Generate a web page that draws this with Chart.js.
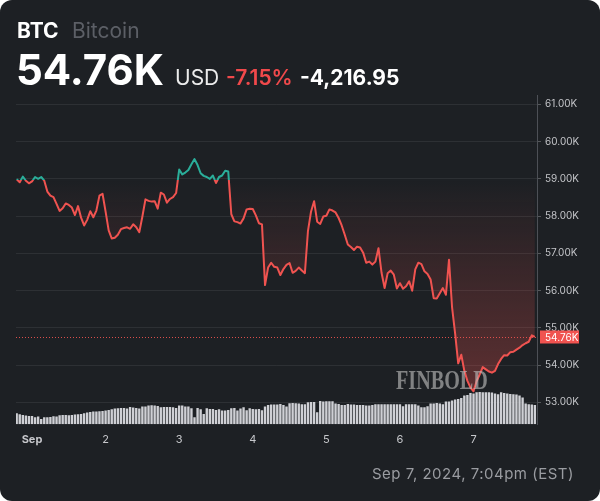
<!DOCTYPE html>
<html>
<head>
<meta charset="utf-8">
<script src="https://cdn.jsdelivr.net/npm/chart.js@4/dist/chart.umd.min.js"></script>
<style>
  html, body { margin:0; padding:0; background:#ffffff; }
  #card { position:absolute; left:0; top:0; width:600px; height:501px; background:#1d2024; border-radius:12px; overflow:hidden; font-family:Inter, "Noto Sans", sans-serif; }
  #card canvas { position:absolute; left:0; top:0; }
  .t { position:absolute; white-space:nowrap; }
</style>
</head>
<body>
<div id="card">
  <canvas id="c" width="600" height="501"></canvas>
  <div class="t" style="left:17px;top:19.9px;font-size:21px;line-height:21px;font-weight:700;color:#ffffff;">BTC</div>
  <div class="t" style="left:72px;top:19.9px;font-size:21px;line-height:21px;font-weight:400;color:#5c5f66;">Bitcoin</div>
  <div class="t" style="left:16px;top:48.7px;font-size:42px;line-height:42px;font-weight:700;color:#ffffff;">54.76K</div>
  <div class="t" style="left:175px;top:66.9px;font-size:21px;line-height:21px;font-weight:400;color:#ececec;">USD</div>
  <div class="t" style="left:226px;top:66.9px;font-size:21px;line-height:21px;font-weight:600;color:#f0494b;">-7.15%</div>
  <div class="t" style="left:300px;top:66.9px;font-size:21px;line-height:21px;font-weight:700;color:#ffffff;">-4,216.95</div>
  <div class="t" style="left:396px;top:365.5px;font-size:28px;line-height:28px;font-weight:700;font-family:'Liberation Serif','DejaVu Serif',serif;color:rgba(190,190,190,0.62);transform:scaleX(0.72);transform-origin:left top;">FINBOLD</div>
  <div class="t" style="left:372px;top:466px;font-size:15px;line-height:15px;font-weight:400;letter-spacing:0.5px;color:#9a9ca1;">Sep 7, 2024, 7:04pm (EST)</div>
</div>
<script>
// Hourly BTC price (thousand USD), first point Aug 31 19:00 (hour -5 relative to Sep 1 00:00)
const startHour = -5;
const prices = [
  58.99, 58.91, 59.06, 58.95, 58.88, 58.93, 59.05, 59.00, 59.05, 58.95,
  58.66, 58.55, 58.51, 58.33, 58.14, 58.21, 58.34, 58.30, 58.23, 58.03,
  58.27, 57.96, 57.75, 57.90, 58.13, 57.97, 58.15, 58.55, 58.60, 58.12,
  57.62, 57.40, 57.42, 57.50, 57.65, 57.68, 57.70, 57.66, 57.78, 57.70,
  57.57, 57.99, 58.45, 58.41, 58.39, 58.40, 58.20, 58.63, 58.58, 58.36,
  58.46, 58.51, 58.62, 59.25, 59.12, 59.17, 59.24, 59.39, 59.53, 59.37,
  59.15, 59.08, 59.05, 59.00, 59.09, 58.89, 59.05, 59.09, 59.22, 59.20,
  58.05, 57.86, 57.84, 57.80, 57.94, 58.18, 58.20, 58.19, 58.02, 57.81,
  57.78, 56.15, 56.62, 56.75, 56.64, 56.62, 56.42, 56.58, 56.69, 56.74,
  56.48, 56.53, 56.62, 56.54, 56.47, 57.60, 58.12, 58.40, 57.85, 57.79,
  57.99, 58.01, 58.18, 58.15, 58.10, 57.95, 57.75, 57.50, 57.24, 57.17,
  57.09, 57.18, 57.16, 57.02, 56.75, 56.78, 56.70, 56.78, 57.14, 56.48,
  56.07, 56.47, 56.54, 56.43, 56.06, 56.20, 56.05, 56.12, 56.25, 56.00,
  56.57, 56.75, 56.71, 56.52, 56.45, 56.30, 55.80, 55.79, 55.93, 56.07,
  55.89, 56.83, 55.55, 54.85, 54.05, 54.28, 53.85, 53.58, 53.40, 53.30,
  53.57, 53.75, 53.95, 53.89, 53.83, 53.80, 53.85, 54.03, 54.17, 54.27,
  54.26, 54.35, 54.36, 54.42, 54.47, 54.54, 54.59, 54.63, 54.80, 54.76
];
// Hourly volume (relative units)
const volumes = [
  11, 10, 9.3, 8.7, 8.3, 8.3, 7, 7.7, 5.3, 7,
  7, 7.3, 8, 7.7, 9, 9.3, 9.3, 9, 9.3, 9.7,
  10, 10.3, 11, 11.7, 12.3, 12.7, 12.7, 13, 13.3, 13.7,
  14.3, 15, 15.7, 16, 16.3, 16.3, 15.7, 17.3, 16.7, 16.3,
  15.7, 17.7, 17.7, 18.7, 19, 18.7, 18.3, 17, 17.3, 17.3,
  17.3, 17, 16.3, 18.7, 18.7, 17.7, 17.7, 16, 7, 16.3,
  15, 10.3, 16, 15.3, 15.3, 14.3, 15, 13.7, 13.7, 14.3,
  16, 16.3, 13.7, 15.7, 17, 14, 16, 15.3, 15, 15.3,
  14, 17.7, 19.3, 19.7, 19.7, 19.7, 20.3, 19.3, 17.7, 21,
  21.3, 21,
  20.7, 20, 20, 22, 22.3, 22.3, 12, 23.3, 22.7, 23,
  23, 23, 20.7, 20.3, 19.3, 19.3, 20.3, 19.7, 19.7, 19.3,
  19.3, 19.3, 18.7, 18.7, 19.3, 20, 20, 20, 20, 20,
  20, 20, 20, 20, 18, 20, 20, 20, 20, 18.7,
  17, 17, 18, 20.7, 20.7, 21.3, 20.7, 20, 22.7, 22.7,
  23.7, 24.7, 25.3, 26.3, 28.7, 29.3, 31.3, 30.7, 32, 32.3,
  32, 32, 32, 31.7, 30.7, 30, 32, 31.3, 30.7, 30.3,
  30, 29.7, 28.7, 26.7, 20.7, 20, 19.7, 19.3
];
const openPrice = 58.977;      // 54.76 + 4.21695
const lastPrice = 54.76;
const dayTicks = [0, 24, 48, 72, 96, 120, 144];
const dayLabels = ['Sep', '2', '3', '4', '5', '6', '7'];
const priceTicks = [53, 54, 55, 56, 57, 58, 59, 60, 61];

const hours = prices.map((_, i) => startHour + i);
const RED = '#f05350', TEAL = '#2aae9a';

const lineColor = (ctx) => {
  const chart = ctx.chart, ca = chart.chartArea;
  if (!ca) return RED;
  const y0 = chart.scales.y.getPixelForValue(openPrice);
  const f = Math.min(1, Math.max(0, (y0 - ca.top) / (ca.bottom - ca.top)));
  const g = chart.ctx.createLinearGradient(0, ca.top, 0, ca.bottom);
  g.addColorStop(0, TEAL); g.addColorStop(f, TEAL);
  g.addColorStop(f, RED); g.addColorStop(1, RED);
  return g;
};
const fillColor = (ctx) => {
  const chart = ctx.chart, ca = chart.chartArea;
  if (!ca) return 'rgba(240,83,80,0.15)';
  const y0 = chart.scales.y.getPixelForValue(openPrice);
  const f = Math.min(1, Math.max(0, (y0 - ca.top) / (ca.bottom - ca.top)));
  const g = chart.ctx.createLinearGradient(0, ca.top, 0, ca.bottom);
  g.addColorStop(0, 'rgba(240,83,80,0)'); g.addColorStop(f, 'rgba(240,83,80,0)');
  g.addColorStop(1, 'rgba(240,83,80,0.36)');
  return g;
};

const lastPricePlugin = {
  id: 'lastPrice',
  beforeDatasetsDraw(chart) {
    const {ctx, chartArea: ca, scales} = chart;
    const y = Math.round(scales.y.getPixelForValue(lastPrice)) + 0.5;
    ctx.save();
    ctx.strokeStyle = 'rgba(240,83,80,0.9)';
    ctx.lineWidth = 1;
    ctx.setLineDash([1, 2]);
    ctx.beginPath(); ctx.moveTo(ca.left, y); ctx.lineTo(ca.right, y); ctx.stroke();
    ctx.restore();
  },
  afterDraw(chart) {
    const {ctx, chartArea: ca, scales} = chart;
    const y = scales.y.getPixelForValue(lastPrice);
    ctx.save();
    ctx.fillStyle = RED;
    ctx.fillRect(ca.right + 3, Math.round(y) - 6.5, 39, 13);
    ctx.fillStyle = '#ffffff';
    ctx.font = '10px Inter, "Noto Sans", sans-serif';
    ctx.textBaseline = 'middle';
    ctx.textAlign = 'left';
    ctx.fillText(lastPrice.toFixed(2) + 'K', ca.right + 8, Math.round(y) + 0.5);
    ctx.restore();
  }
};

new Chart(document.getElementById('c'), {
  type: 'line',
  data: {
    datasets: [
      {
        type: 'line',
        data: hours.map((h, i) => ({x: h, y: prices[i]})),
        yAxisID: 'y', order: 1,
        borderColor: lineColor, backgroundColor: fillColor,
        fill: {value: openPrice},
        borderWidth: 2, pointRadius: 0, tension: 0,
        borderJoinStyle: 'round'
      },
      {
        type: 'bar',
        data: hours.map((h, i) => ({x: h, y: volumes[i]})),
        yAxisID: 'v', order: 2,
        backgroundColor: '#cfd0d5',
        barPercentage: 0.78, categoryPercentage: 1
      }
    ]
  },
  options: {
    responsive: false,
    animation: false,
    events: [],
    layout: { padding: { left: 16, top: 95, right: 0, bottom: 46.7 } },
    plugins: { legend: { display: false }, tooltip: { enabled: false } },
    scales: {
      x: {
        type: 'linear', min: -5.22, max: 164.7, offset: false,
        afterBuildTicks: (s) => { s.ticks = dayTicks.map(v => ({value: v})); },
        afterFit: (s) => { s.height = 30; },
        grid: { display: false, drawTicks: false }, border: { display: false },
        ticks: {
          autoSkip: false, maxRotation: 0, padding: 9, color: '#c6c7cb',
          callback: (v) => dayLabels[dayTicks.indexOf(v)],
          font: (c) => ({ family: 'Inter', size: 11, weight: (c.tick && c.tick.value === 0) ? 'bold' : 'normal' })
        }
      },
      y: {
        position: 'right', min: 52.415, max: 61.25,
        afterBuildTicks: (s) => { s.ticks = priceTicks.map(v => ({value: v})); },
        afterFit: (s) => { s.width = 63; },
        grid: { color: 'rgba(255,255,255,0.075)', drawTicks: true, tickLength: 4, tickColor: 'rgba(255,255,255,0.25)' },
        border: { display: true, color: '#4d5056', width: 1 },
        ticks: {
          padding: 4, color: '#c3c4c8',
          font: { family: 'Inter', size: 10 },
          callback: (v) => Number(v).toFixed(2) + 'K'
        }
      },
      v: { display: false, min: 0, max: 329.3 }
    }
  },
  plugins: [lastPricePlugin]
});
</script>
</body>
</html>
